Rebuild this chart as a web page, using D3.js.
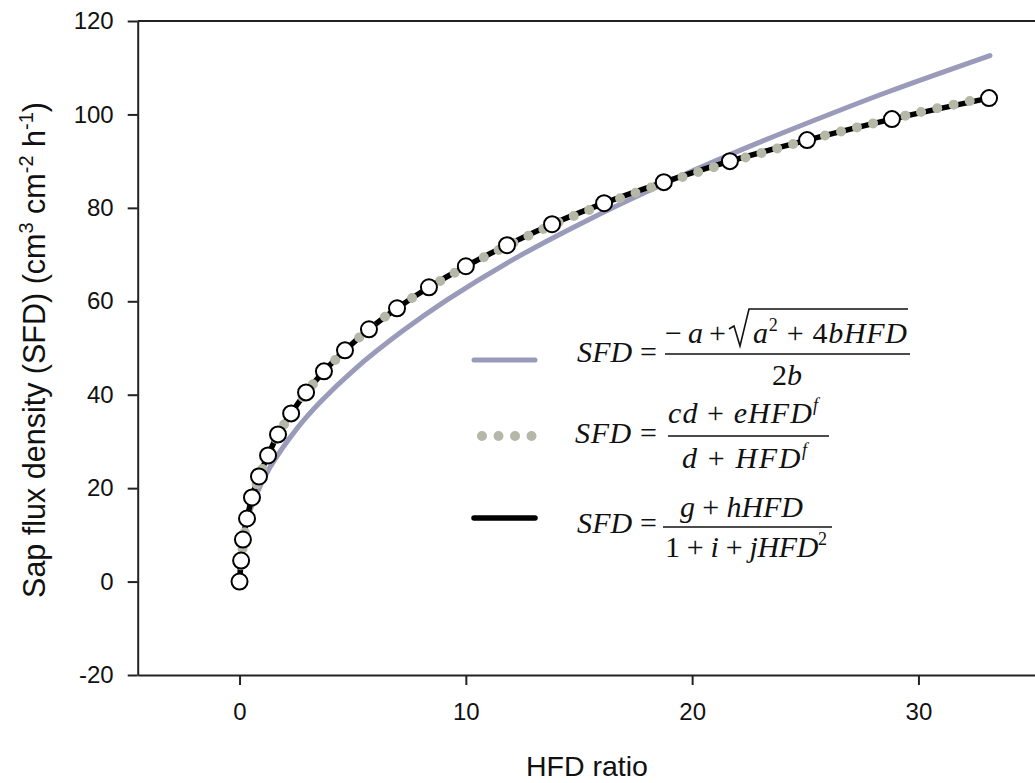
<!DOCTYPE html>
<html>
<head>
<meta charset="utf-8">
<script src="https://cdn.jsdelivr.net/npm/d3@7"></script>
<style>
  body { margin: 0; background: #fff; }
  svg { display: block; }
  .axis path, .axis line { stroke: #222; stroke-width: 2; }
  .axis text { font-family: "Liberation Sans", Arial, sans-serif; font-size: 24px; fill: #111; }
  .title { font-family: "Liberation Sans", Arial, sans-serif; font-size: 28.5px; fill: #111; }
  .eq { font-family: "Liberation Serif", "Times New Roman", serif; font-size: 30px; fill: #111; }
</style>
</head>
<body>
<svg id="chart" width="1035" height="783"></svg>
<script>
// observed points (white circles)
var hfd = [0, 0.07, 0.15, 0.33, 0.55, 0.86, 1.26, 1.7, 2.28, 2.94, 3.73, 4.66, 5.72, 6.96, 8.37, 10.0, 11.82, 13.81, 16.11, 18.75, 21.67, 25.08, 28.83, 33.12];
var sfd = [0, 4.5, 9, 13.5, 18, 22.5, 27, 31.5, 36, 40.5, 45, 49.5, 54, 58.5, 63, 67.5, 72, 76.5, 81, 85.5, 90, 94.5, 99, 103.5];

// fit 1 (purple, quadratic root)
var fit1X = [0, 0.12, 0.33, 0.73, 1.34, 2.56, 3.58, 5.1, 7.14, 9.17, 12.22, 15.27, 18.32, 21.67, 25.43, 28.58, 33.16];
var fit1Y = [0, 8.7, 13.1, 18.5, 24.4, 32.9, 38.5, 45.5, 53.4, 60.3, 69.3, 77.1, 84.2, 91.4, 98.8, 104.7, 112.6];

// fit 2 (grey dots, sigmoid)
var fit2X = [0, 0.12, 0.33, 0.63, 1.04, 1.65, 2.36, 3.27, 4.39, 5.71, 7.34, 9.17, 11.41, 13.95, 16.79, 19.84, 23.09, 26.45, 30.0, 33.16];
var fit2Y = [0, 6.5, 13.2, 19.0, 24.5, 31.0, 36.5, 42.4, 48.2, 54.0, 59.8, 65.2, 70.9, 76.6, 82.0, 87.0, 91.8, 96.2, 100.4, 103.8];

var xTicks = [0, 10, 20, 30];
var yTicks = [-20, 0, 20, 40, 60, 80, 100, 120];

var svg = d3.select('#chart');

var x = d3.scaleLinear().domain([-4.5, 35.5]).range([137.7, 1042.9]);
var y = d3.scaleLinear().domain([-20, 120]).range([675, 21]);

function pts(xs, ys) {
	return xs.map(function(d, i) { return [d, ys[i]]; });
}

var line = d3.line()
	.x(function(d) { return x(d[0]); })
	.y(function(d) { return y(d[1]); })
	.curve(d3.curveCatmullRom.alpha(0.5));

// frame
svg.append('line')
	.attr('x1', x(-4.5)).attr('x2', 1035)
	.attr('y1', y(120)).attr('y2', y(120))
	.attr('stroke', '#222').attr('stroke-width', 2);

var plain = function(d) { return String(d); };

svg.append('g')
	.attr('class', 'axis')
	.attr('transform', 'translate(0,' + y(-20) + ')')
	.call(d3.axisBottom(x).tickValues(xTicks).tickFormat(plain).tickSize(10).tickPadding(18).tickSizeOuter(0));

svg.append('g')
	.attr('class', 'axis')
	.attr('transform', 'translate(' + x(-4.5) + ',0)')
	.call(d3.axisLeft(y).tickValues(yTicks).tickFormat(plain).tickSize(10).tickPadding(14).tickSizeOuter(0));

// curves
svg.append('path')
	.datum(pts(fit1X, fit1Y))
	.attr('d', line)
	.attr('fill', 'none')
	.attr('stroke', '#9a9aba')
	.attr('stroke-width', 5)
	.attr('stroke-linecap', 'round');

svg.append('path')
	.datum(pts(hfd, sfd))
	.attr('d', line)
	.attr('fill', 'none')
	.attr('stroke', '#000')
	.attr('stroke-width', 5.5);

svg.append('path')
	.datum(pts(fit2X, fit2Y))
	.attr('d', line)
	.attr('fill', 'none')
	.attr('stroke', '#b5b7a7')
	.attr('stroke-width', 10)
	.attr('stroke-linecap', 'round')
	.attr('stroke-dasharray', '0 16.5');

svg.selectAll('circle.obs')
	.data(pts(hfd, sfd))
	.enter()
	.append('circle')
	.attr('class', 'obs')
	.attr('cx', function(d) { return x(d[0]); })
	.attr('cy', function(d) { return y(d[1]); })
	.attr('r', 8)
	.attr('fill', '#fff')
	.attr('stroke', '#000')
	.attr('stroke-width', 2);

// axis titles
svg.append('text')
	.attr('class', 'title')
	.attr('x', 587).attr('y', 776)
	.attr('text-anchor', 'middle')
	.text('HFD ratio');

var yt = svg.append('text')
	.attr('class', 'title')
	.style('font-size', '30.5px')
	.attr('transform', 'translate(45,350) rotate(-90)')
	.attr('text-anchor', 'middle');
yt.append('tspan').text('Sap flux density (SFD) (cm');
yt.append('tspan').attr('font-size', '20px').attr('dy', -12).text('3');
yt.append('tspan').attr('dy', 12).text(' cm');
yt.append('tspan').attr('font-size', '20px').attr('dy', -12).text('-2');
yt.append('tspan').attr('dy', 12).text(' h');
yt.append('tspan').attr('font-size', '20px').attr('dy', -12).text('-1');
yt.append('tspan').attr('dy', 12).text(')');

// legend
function eq(px, py, parts, len, anchor) {
	var t = svg.append('text')
		.attr('class', 'eq')
		.attr('x', px).attr('y', py)
		.attr('text-anchor', anchor || 'start');
	if (len) t.attr('textLength', len).attr('lengthAdjust', 'spacing');
	var up = false;
	parts.forEach(function(p) {
		var s = t.append('tspan').text(p[0]);
		if (p[1].indexOf('i') >= 0) s.attr('font-style', 'italic');
		if (p[1].indexOf('s') >= 0) {
			s.attr('font-size', '18px').attr('dy', -12);
			up = true;
		} else if (up) {
			s.attr('dy', 12);
			up = false;
		}
	});
	return t;
}

function bar(x1, x2, yy) {
	svg.append('line')
		.attr('x1', x1).attr('x2', x2)
		.attr('y1', yy).attr('y2', yy)
		.attr('stroke', '#111').attr('stroke-width', 1.6);
}

var legendKeys = [
	{ y: 360, stroke: '#9a9aba', width: 5, dash: null },
	{ y: 436, stroke: '#b5b7a7', width: 10, dash: '0 16.5' },
	{ y: 518, stroke: '#000', width: 5.5, dash: null }
];
legendKeys.forEach(function(k, i) {
	svg.append('line')
		.attr('x1', i == 1 ? 482 : 474).attr('x2', i == 1 ? 532 : 535)
		.attr('y1', k.y).attr('y2', k.y)
		.attr('stroke', k.stroke)
		.attr('stroke-width', k.width)
		.attr('stroke-linecap', 'round')
		.attr('stroke-dasharray', k.dash);
});

// equation 1
eq(577, 362, [['SFD', 'i'], [' =', 'n']], 80);
eq(665, 343, [['\u2212 ', 'n'], ['a', 'i'], [' +', 'n']], 61);
svg.append('path')
	.attr('d', 'M729,329 L734,326 L740,346 L749,309 L908,309')
	.attr('fill', 'none').attr('stroke', '#111').attr('stroke-width', 1.6);
eq(753, 343, [['a', 'i'], ['2', 's'], [' + 4', 'n'], ['bHFD', 'i']], 154);
bar(665, 910, 354);
eq(787, 385, [['2', 'n'], ['b', 'i']], null, 'middle');

// equation 2
eq(575, 443, [['SFD', 'i'], [' =', 'n']], 82);
eq(668, 423, [['cd', 'i'], [' + ', 'n'], ['eHFD', 'i'], ['f', 'is']], 150);
bar(668, 829, 436);
eq(682, 468, [['d', 'i'], [' + ', 'n'], ['HFD', 'i'], ['f', 'is']], 125);

// equation 3
eq(577, 533, [['SFD', 'i'], [' =', 'n']], 80);
eq(680, 517, [['g', 'i'], [' + ', 'n'], ['hHFD', 'i']], 123);
bar(663, 832, 527);
eq(665, 557, [['1 + ', 'n'], ['i', 'i'], [' + ', 'n'], ['jHFD', 'i'], ['2', 's']], 162);
</script>
</body>
</html>
